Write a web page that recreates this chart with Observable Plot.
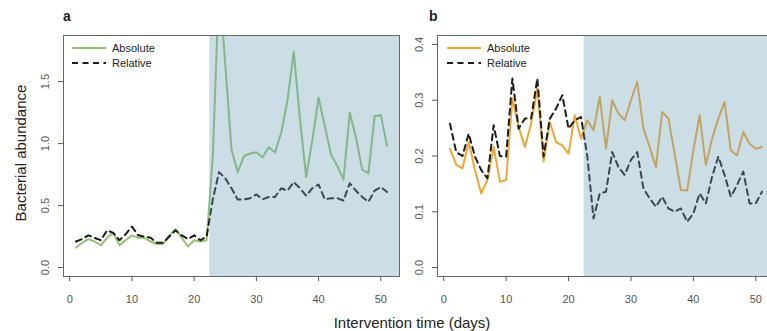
<!DOCTYPE html>
<html><head><meta charset="utf-8">
<script src="https://cdn.jsdelivr.net/npm/d3@7"></script>
<script src="https://cdn.jsdelivr.net/npm/@observablehq/plot@0.6"></script>
<style>
body{margin:0;background:#fff;font-family:"Liberation Sans",Arial,Helvetica,sans-serif;}
#wrap{position:relative;width:767px;height:331px;overflow:hidden;background:#fff;}
.pa{position:absolute;top:0;}
.t{position:absolute;white-space:nowrap;line-height:1;color:#222;}
</style></head><body>
<div id="wrap"></div>
<script>
// ---- data ----
const days = [1,2,3,4,5,6,7,8,9,10,11,12,13,14,15,16,17,18,19,20,21,22,23,24,25,26,27,28,29,30,31,32,33,34,35,36,37,38,39,40,41,42,43,44,45,46,47,48,49,50,51];
const absoluteA = [0.16,0.20,0.23,0.21,0.18,0.24,0.28,0.18,0.22,0.26,0.24,0.24,0.21,0.19,0.19,0.26,0.31,0.24,0.17,0.22,0.21,0.22,0.90,2.30,1.64,0.95,0.77,0.90,0.92,0.93,0.89,0.97,0.93,1.09,1.35,1.74,1.20,0.73,1.03,1.37,1.14,0.91,0.82,0.71,1.25,1.05,0.79,0.76,1.22,1.23,0.98];
const relativeA = [0.21,0.23,0.26,0.24,0.22,0.30,0.28,0.22,0.27,0.33,0.26,0.25,0.24,0.20,0.20,0.25,0.30,0.26,0.23,0.26,0.22,0.25,0.55,0.77,0.72,0.64,0.55,0.55,0.56,0.59,0.55,0.57,0.57,0.64,0.62,0.69,0.64,0.58,0.64,0.67,0.55,0.56,0.56,0.54,0.68,0.62,0.57,0.53,0.62,0.65,0.61];
const absoluteB = [0.213,0.184,0.178,0.225,0.175,0.133,0.157,0.216,0.154,0.157,0.303,0.252,0.216,0.258,0.321,0.190,0.261,0.225,0.219,0.204,0.273,0.231,0.264,0.246,0.306,0.213,0.300,0.276,0.264,0.300,0.333,0.249,0.216,0.180,0.279,0.267,0.204,0.139,0.138,0.210,0.273,0.184,0.231,0.267,0.297,0.210,0.201,0.243,0.222,0.213,0.216];
const relativeB = [0.258,0.207,0.200,0.240,0.199,0.175,0.160,0.255,0.200,0.199,0.339,0.249,0.267,0.267,0.339,0.199,0.267,0.285,0.309,0.249,0.264,0.270,0.200,0.088,0.133,0.136,0.207,0.180,0.166,0.193,0.207,0.142,0.124,0.109,0.127,0.106,0.100,0.106,0.082,0.097,0.133,0.115,0.163,0.199,0.166,0.127,0.148,0.172,0.115,0.115,0.136];
const interventionStart = 22.5;
const interventionEnd = 53;
const xTicks = [0,10,20,30,40,50];
const yTicksA = [0,0.5,1,1.5];
const yTicksB = [0,0.1,0.2,0.3,0.4];
const seriesLabels = ["Absolute","Relative"];
const panelLabels = ["a","b"];
const xTitle = "Intervention time (days)";
const yTitle = "Bacterial abundance";

// ---- styles ----
const green = "#93c272", orange = "#f2a535", dark = "#1c1c1c";
const shade = "rgb(106,161,184)", shadeOpacity = 0.35;

function panel({abs, rel, color, yDomain, yTicks, width, marginLeft, marginRight}) {
  const data = days.map((d,i) => ({day:d, abs:abs[i], rel:rel[i]}));
  return Plot.plot({
    width, height: 331,
    marginTop: 35, marginBottom: 55, marginLeft, marginRight,
    style: {fontFamily: '"Liberation Sans",Arial,sans-serif', fontSize: "11px", color: "#555", background: "transparent"},
    x: {domain: [-1, 53]},
    y: {domain: yDomain},
    marks: [
      Plot.line(data, {x: "day", y: "abs", stroke: color, strokeWidth: 2, clip: true}),
      Plot.line(data, {x: "day", y: "rel", stroke: dark, strokeWidth: 2, strokeDasharray: "6,4.5", clip: true}),
      Plot.rect([{s: interventionStart, e: interventionEnd}], {x1: "s", x2: "e", fill: shade, fillOpacity: shadeOpacity}),
      Plot.frame({stroke: "#666", strokeWidth: 1}),
      Plot.axisX({ticks: xTicks, tickSize: 5, tickPadding: 14, label: null, stroke: "#555"}),
      Plot.axisY({ticks: yTicks, tickSize: 5, tickRotate: -90, tickPadding: 10, label: null, tickFormat: d3.format(".1f"), stroke: "#555"})
    ]
  });
}

const wrap = document.getElementById("wrap");
const A = panel({abs: absoluteA, rel: relativeA, color: green, yDomain: [-0.072, 1.872], yTicks: yTicksA, width: 400, marginLeft: 63, marginRight: 1});
A.classList.add("pa"); A.style.left = "0px";
const B = panel({abs: absoluteB, rel: relativeB, color: orange, yDomain: [-0.016, 0.416], yTicks: yTicksB, width: 391, marginLeft: 54, marginRight: 0});
B.classList.add("pa"); B.style.left = "383px";
wrap.appendChild(A); wrap.appendChild(B);

// legends
function legend(x0, color) {
  const ns = "http://www.w3.org/2000/svg";
  const svg = document.createElementNS(ns, "svg");
  svg.setAttribute("width", 120); svg.setAttribute("height", 40);
  svg.style.position = "absolute"; svg.style.left = x0 + "px"; svg.style.top = "38px";
  const items = [{c: color, dash: null, y: 10}, {c: dark, dash: "6,4.5", y: 25}];
  items.forEach((it, i) => {
    const l = document.createElementNS(ns, "line");
    l.setAttribute("x1", 0); l.setAttribute("x2", 34);
    l.setAttribute("y1", it.y); l.setAttribute("y2", it.y);
    l.setAttribute("stroke", it.c); l.setAttribute("stroke-width", 2);
    if (it.dash) l.setAttribute("stroke-dasharray", it.dash);
    svg.appendChild(l);
    const t = document.createElementNS(ns, "text");
    t.setAttribute("x", 40); t.setAttribute("y", it.y);
    t.setAttribute("dy", "0.35em");
    t.setAttribute("font-size", 11); t.setAttribute("fill", "#222");
    t.setAttribute("font-family", '"Liberation Sans",Arial,sans-serif');
    t.textContent = seriesLabels[i];
    svg.appendChild(t);
  });
  wrap.appendChild(svg);
}
legend(72, green);
legend(447, orange);

function addText(txt, css) {
  const d = document.createElement("div");
  d.className = "t"; d.textContent = txt;
  Object.assign(d.style, css);
  wrap.appendChild(d);
}
addText(panelLabels[0], {left: "63px", top: "9px", fontSize: "14px", fontWeight: "bold"});
addText(panelLabels[1], {left: "429px", top: "9px", fontSize: "14px", fontWeight: "bold"});
addText(yTitle, {left: "20px", top: "153px", fontSize: "15px", transform: "translate(-50%,-50%) rotate(-90deg)"});
addText(xTitle, {left: "412px", top: "315px", fontSize: "15px", transform: "translateX(-50%)"});
</script>
</body></html>
